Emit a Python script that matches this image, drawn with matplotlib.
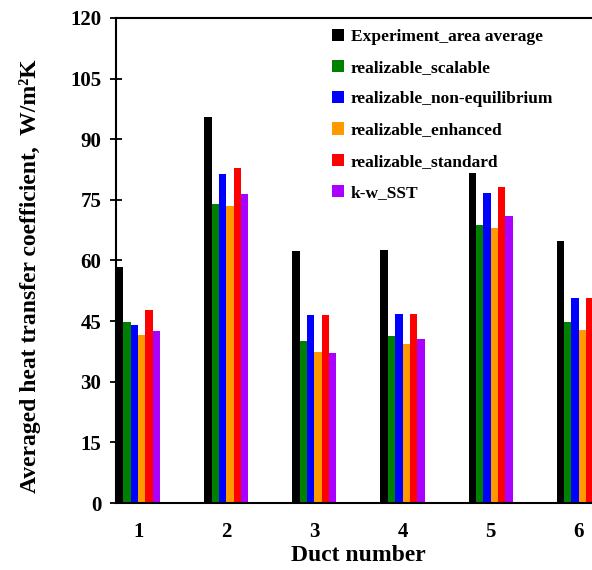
import numpy as np
import matplotlib
matplotlib.use("Agg")
import matplotlib.pyplot as plt

plt.rcParams['font.family'] = ['Liberation Serif', 'DejaVu Serif']
plt.rcParams['font.weight'] = 'bold'

ducts = [1, 2, 3, 4, 5, 6]
experiment = [58.3, 95.6, 62.3, 62.7, 81.6, 64.8]
scalable = [44.9, 74.0, 40.0, 41.2, 68.9, 44.8]
non_equilibrium = [44.0, 81.5, 46.4, 46.8, 76.8, 50.8]
enhanced = [41.5, 73.5, 37.4, 39.4, 68.1, 42.7]
standard = [47.8, 82.8, 46.6, 46.8, 78.3, 50.8]
sst = [42.5, 76.5, 37.1, 40.7, 70.9, 45.0]

series = [experiment, scalable, non_equilibrium, enhanced, standard, sst]
labels = ['Experiment_area average', 'realizable_scalable',
          'realizable_non-equilibrium', 'realizable_enhanced',
          'realizable_standard', 'k-w_SST']
colors = ['#000000', '#008000', '#0000ff', '#ff9900', '#ff0000', '#aa00ff']

fig = plt.figure(figsize=(5.92, 5.70), dpi=100)
ax = fig.add_axes([0.196, 0.1175, 0.819, 0.851])

x = np.array(ducts, dtype=float)
w = 0.5 / len(series)
for i, (vals, lab, c) in enumerate(zip(series, labels, colors)):
    ax.bar(x + (i - 2.5) * w, vals, width=w, color=c, label=lab)

ax.set_xlim(0.75, 6.25)
ax.set_ylim(0, 120)
ax.set_yticks(np.arange(0, 121, 15))
ax.set_xticks(ducts)
ax.tick_params(axis='y', direction='inout', length=9, width=1.3, labelsize=15, pad=6)
ax.tick_params(axis='x', length=0, labelsize=15, pad=14)
for s in ax.spines.values():
    s.set_linewidth(1.5)

ax.set_xlabel('Duct number', fontsize=17, fontweight='bold', labelpad=2)
ax.set_ylabel('Averaged heat transfer coefficient,  W/m²K',
              fontsize=17, fontweight='bold')
ax.yaxis.set_label_coords(-0.155, 0.468)

leg = ax.legend(loc='upper left', bbox_to_anchor=(0.42, 1.003), frameon=False,
                fontsize=12.5, handlelength=0.7, handleheight=0.7,
                handletextpad=0.4, labelspacing=0.87, borderpad=0.2)

fig.savefig('out.png', dpi=100)
